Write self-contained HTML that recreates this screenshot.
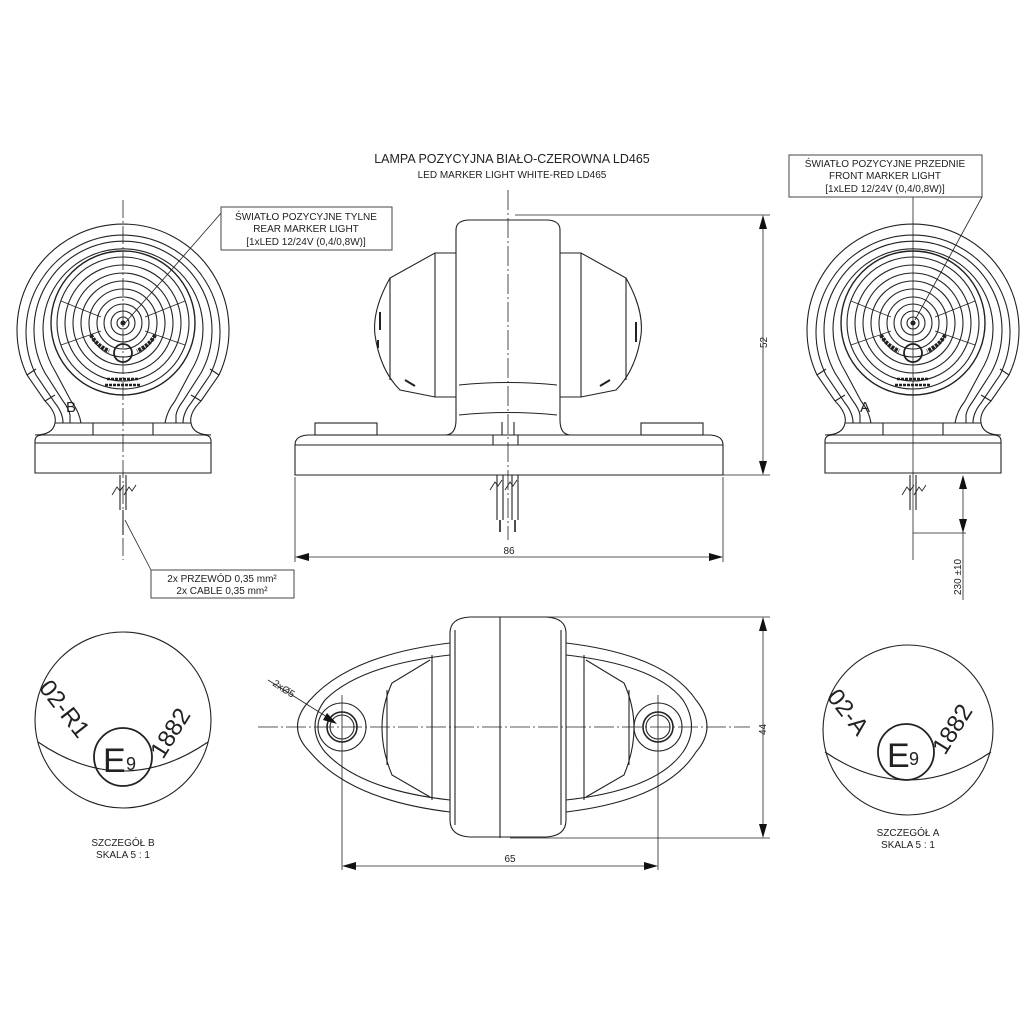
<!DOCTYPE html>
<html><head><meta charset="utf-8"><style>
html,body{margin:0;padding:0;background:#fff;}
svg{display:block;font-family:"Liberation Sans",sans-serif;}
</style></head><body>
<svg width="1024" height="1024" viewBox="0 0 1024 1024" xmlns="http://www.w3.org/2000/svg">
<defs>
<g id="side" fill="none" stroke="#222" stroke-width="1.1">
  <!-- ring and legs -->
  <path d="M-88,112 Q-70,112 -68,100 Q-66,90 -78,78 L-96,52 A106,106 0 1 1 96,52 L78,78 Q66,90 68,100 Q70,112 88,112"/>
  <path d="M-60,100 Q-60,90 -68,80 L-87,52 A97,97 0 1 1 87,52 L68,80 Q60,90 60,100"/>
  <path d="M-53,100 L-53,92 Q-54,86 -60,78 L-78,50 A89,89 0 1 1 78,50 L60,78 Q54,86 53,92 L53,100"/>
  <path d="M-42,100 Q-44,88 -52,78 L-68,48 A80,80 0 1 1 68,48 L52,78 Q44,88 42,100"/>
  <path d="M-96,52 L-87,46 M96,52 L87,46 M-78,78 L-68,72 M78,78 L68,72"/>
  <!-- lens -->
  <circle cx="0" cy="0" r="72" stroke-width="1.4"/>
  <circle cx="0" cy="0" r="66"/>
  <circle cx="0" cy="0" r="58"/>
  <circle cx="0" cy="0" r="50"/>
  <circle cx="0" cy="0" r="42"/>
  <circle cx="0" cy="0" r="34"/>
  <circle cx="0" cy="0" r="26"/>
  <circle cx="0" cy="0" r="19"/>
  <circle cx="0" cy="0" r="12"/>
  <circle cx="0" cy="0" r="6"/>
  <circle cx="0" cy="0" r="2" fill="#222"/>
  <path d="M-62,-22 L-22,-6 M62,-22 L22,-6 M-62,22 L-22,8 M62,22 L22,8" stroke-width="0.7"/>
  <circle cx="0" cy="30" r="9" stroke-width="1.8"/>
  <path d="M-32,12 q5,10 18,16 M32,12 q-5,10 -18,16" stroke-width="4" stroke-dasharray="3,1"/>
  <path d="M-16,56 h32 M-18,62 h36" stroke-width="2.5" stroke-dasharray="3,1"/>
  <!-- base -->
  <path d="M-30,100 V112 H30 V100 Z"/>
  <path d="M-68,100 H68"/>
  <path d="M-88,150 V118 Q-88,112 -80,112 H80 Q88,112 88,118 V150 Z"/>
  <path d="M-88,120 H88"/>
</g>
</defs>

<!-- title -->
<text x="512" y="163" font-size="12.5" text-anchor="middle" fill="#222">LAMPA POZYCYJNA BIAŁO-CZEROWNA LD465</text>
<text x="512" y="178" font-size="10" text-anchor="middle" fill="#222">LED MARKER LIGHT WHITE-RED LD465</text>

<!-- left side view -->
<g transform="translate(123,323)"><use href="#side"/></g>
<text x="66" y="412" font-size="15" fill="#222">B</text>
<line x1="123" y1="200" x2="123" y2="560" stroke="#222" stroke-width="0.8" stroke-dasharray="18,3,2,3"/>
<path d="M120,475 V510 M126,475 V510 M123,510 V535" stroke="#222" fill="none" stroke-width="1.1"/>
<path d="M112,495 l5,-8 l3,4 l4,-6 M124,495 l5,-8 l3,4 l4,-6" stroke="#222" fill="none" stroke-width="0.9"/>
<line x1="125" y1="520" x2="151" y2="570" stroke="#222" stroke-width="0.8"/>
<rect x="151" y="570" width="143" height="28" fill="#fff" stroke="#444" stroke-width="1"/>
<text x="222" y="582" font-size="10" text-anchor="middle" fill="#222">2x PRZEWÓD 0,35 mm²</text>
<text x="222" y="594" font-size="10" text-anchor="middle" fill="#222">2x CABLE 0,35 mm²</text>
<line x1="125" y1="323" x2="222" y2="212" stroke="#222" stroke-width="0.8"/>
<rect x="221" y="207" width="171" height="43" fill="#fff" stroke="#444" stroke-width="1"/>
<text x="306" y="220" font-size="10" text-anchor="middle" fill="#222">ŚWIATŁO POZYCYJNE TYLNE</text>
<text x="306" y="232" font-size="10" text-anchor="middle" fill="#222">REAR MARKER LIGHT</text>
<text x="306" y="245" font-size="10" text-anchor="middle" fill="#222">[1xLED 12/24V (0,4/0,8W)]</text>

<!-- right side view -->
<g transform="translate(913,323)"><use href="#side"/></g>
<text x="860" y="412" font-size="15" fill="#222">A</text>
<line x1="913" y1="190" x2="913" y2="560" stroke="#222" stroke-width="0.8"/>
<path d="M910,475 V510 M916,475 V510" stroke="#222" fill="none" stroke-width="1.1"/>
<path d="M902,495 l5,-8 l3,4 l4,-6 M914,495 l5,-8 l3,4 l4,-6" stroke="#222" fill="none" stroke-width="0.9"/>
<line x1="915" y1="320" x2="982" y2="197" stroke="#222" stroke-width="0.8"/>
<rect x="789" y="155" width="193" height="42" fill="#fff" stroke="#444" stroke-width="1"/>
<text x="885" y="167" font-size="10" text-anchor="middle" fill="#222">ŚWIATŁO POZYCYJNE PRZEDNIE</text>
<text x="885" y="179" font-size="10" text-anchor="middle" fill="#222">FRONT MARKER LIGHT</text>
<text x="885" y="192" font-size="10" text-anchor="middle" fill="#222">[1xLED 12/24V (0,4/0,8W)]</text>
<line x1="913" y1="533" x2="966" y2="533" stroke="#222" stroke-width="0.8"/>
<line x1="963" y1="478" x2="963" y2="600" stroke="#222" stroke-width="0.8"/>
<path d="M963,475 l-4,14 h8 Z M963,533 l-4,-14 h8 Z" fill="#111"/>
<text transform="translate(961,595) rotate(-90)" font-size="10" fill="#222">230 ±10</text>

<!-- front view -->
<g fill="none" stroke="#222" stroke-width="1.1">
  <path d="M456,420 V230 Q456,220 470,220 H546 Q560,220 560,230 V420"/>
  <path d="M459,385 Q508,380 557,385 M459,415 Q508,410 557,415"/>
  <path d="M456,253 H435 L390,278 Q372,310 375,335 Q380,370 400,390 L435,397 H456"/>
  <path d="M435,253 V397 M390,278 V380"/>
  <path d="M560,253 H581 L626,278 Q644,310 641,335 Q636,370 616,390 L581,397 H560"/>
  <path d="M581,253 V397 M626,278 V380"/>
  <path d="M456,420 Q456,435 445,435 M560,420 Q560,435 571,435"/>
  <rect x="315" y="423" width="62" height="12"/>
  <rect x="641" y="423" width="62" height="12"/>
  <path d="M295,475 V445 Q295,435 310,435 H708 Q723,435 723,445 V475 Z"/>
  <path d="M295,445 H723"/>
  <path d="M493,435 V445 M518,435 V445 M502,422 V435 M514,422 V435"/>
  <path d="M497,475 V520 M503,475 V520 M512,475 V520 M518,475 V520"/>
  <path d="M500,520 V532 M515,520 V532" stroke-width="1.6"/>
  <path d="M490,490 l5,-8 l3,4 l4,-6 M505,490 l5,-8 l3,4 l4,-6" stroke-width="0.9"/>
</g>
<g stroke="#222" stroke-width="2">
  <path d="M380,312 v18 M378,340 v8 M636,322 v20 M405,380 l10,6 M610,380 l-10,6"/>
</g>
<line x1="508" y1="190" x2="508" y2="540" stroke="#222" stroke-width="0.8" stroke-dasharray="20,3,2,3"/>
<line x1="515" y1="215" x2="770" y2="215" stroke="#222" stroke-width="0.8"/>
<line x1="723" y1="475" x2="770" y2="475" stroke="#222" stroke-width="0.8"/>
<line x1="763" y1="217" x2="763" y2="473" stroke="#222" stroke-width="0.8"/>
<path d="M763,215 l-4,14 h8 Z M763,475 l-4,-14 h8 Z" fill="#111"/>
<text transform="translate(767,348) rotate(-90)" font-size="10" fill="#222">52</text>
<line x1="295" y1="477" x2="295" y2="562" stroke="#222" stroke-width="0.8"/>
<line x1="723" y1="477" x2="723" y2="562" stroke="#222" stroke-width="0.8"/>
<line x1="297" y1="557" x2="721" y2="557" stroke="#222" stroke-width="0.8"/>
<path d="M295,557 l14,-4 v8 Z M723,557 l-14,-4 v8 Z" fill="#111"/>
<text x="509" y="554" font-size="10" text-anchor="middle" fill="#222">86</text>

<!-- bottom view -->
<g fill="none" stroke="#222" stroke-width="1.1">
  <path d="M450,643 Q350,655 310,700 Q285,727 310,752 Q350,800 450,812"/>
  <path d="M450,655 Q360,665 325,700 Q305,727 325,752 Q360,790 450,800"/>
  <path d="M566,643 Q666,655 696,700 Q718,727 696,752 Q666,800 566,812"/>
  <path d="M566,655 Q656,665 683,700 Q700,727 683,752 Q656,790 566,800"/>
  <path d="M432,655 V800 M430,660 L392,683 Q372,727 392,775 L430,797"/>
  <path d="M387,690 V765"/>
  <path d="M584,655 V800 M586,660 L624,683 Q644,727 624,775 L586,797"/>
  <path d="M629,690 V765"/>
  <path d="M450,633 Q450,618 470,617 H546 Q566,618 566,633 V820 Q566,836 546,837 H470 Q450,836 450,820 Z"/>
  <path d="M455,630 V825 M561,630 V825 M500,617 V838"/>
  <circle cx="342" cy="727" r="24"/>
  <circle cx="342" cy="727" r="15" stroke-width="1.6"/>
  <circle cx="342" cy="727" r="12"/>
  <circle cx="658" cy="727" r="24"/>
  <circle cx="658" cy="727" r="15" stroke-width="1.6"/>
  <circle cx="658" cy="727" r="12"/>
</g>
<line x1="258" y1="727" x2="750" y2="727" stroke="#222" stroke-width="0.8" stroke-dasharray="20,3,2,3"/>
<line x1="342" y1="695" x2="342" y2="870" stroke="#222" stroke-width="0.8"/>
<line x1="658" y1="695" x2="658" y2="870" stroke="#222" stroke-width="0.8"/>
<line x1="268" y1="680" x2="335" y2="722" stroke="#222" stroke-width="0.8"/>
<path d="M337,724 l-14,-4 l4,-7 Z" fill="#111"/>
<text transform="translate(272,685) rotate(33)" font-size="10" fill="#222">2xØ5</text>
<line x1="510" y1="617" x2="770" y2="617" stroke="#222" stroke-width="0.8"/>
<line x1="510" y1="838" x2="770" y2="838" stroke="#222" stroke-width="0.8"/>
<line x1="763" y1="619" x2="763" y2="836" stroke="#222" stroke-width="0.8"/>
<path d="M763,617 l-4,14 h8 Z M763,838 l-4,-14 h8 Z" fill="#111"/>
<text transform="translate(766,735) rotate(-90)" font-size="10" fill="#222">44</text>
<line x1="344" y1="866" x2="656" y2="866" stroke="#222" stroke-width="0.8"/>
<path d="M342,866 l14,-4 v8 Z M658,866 l-14,-4 v8 Z" fill="#111"/>
<text x="510" y="862" font-size="10" text-anchor="middle" fill="#222">65</text>

<!-- detail B -->
<g fill="none" stroke="#222" stroke-width="1.1">
  <circle cx="123" cy="720" r="88"/>
  <path d="M38,742 Q123,800 208,742"/>
  <circle cx="123" cy="757" r="29" stroke-width="1.8"/>
</g>
<text x="103" y="772" font-size="34" fill="#222">E</text>
<text x="126" y="770" font-size="18" fill="#222">9</text>
<text transform="translate(38,688) rotate(52)" font-size="24" fill="#222">02-R1</text>
<text transform="translate(163,760) rotate(-58)" font-size="24" fill="#222">1882</text>
<text x="123" y="846" font-size="10" text-anchor="middle" fill="#222">SZCZEGÓŁ B</text>
<text x="123" y="858" font-size="10" text-anchor="middle" fill="#222">SKALA 5 : 1</text>

<!-- detail A -->
<g fill="none" stroke="#222" stroke-width="1.1">
  <circle cx="908" cy="730" r="85"/>
  <path d="M825,752 Q908,808 991,752"/>
  <circle cx="906" cy="752" r="28" stroke-width="1.8"/>
</g>
<text x="887" y="767" font-size="34" fill="#222">E</text>
<text x="909" y="765" font-size="18" fill="#222">9</text>
<text transform="translate(826,697) rotate(52)" font-size="24" fill="#222">02-A</text>
<text transform="translate(945,756) rotate(-58)" font-size="24" fill="#222">1882</text>
<text x="908" y="836" font-size="10" text-anchor="middle" fill="#222">SZCZEGÓŁ A</text>
<text x="908" y="848" font-size="10" text-anchor="middle" fill="#222">SKALA 5 : 1</text>
</svg>
</body></html>
